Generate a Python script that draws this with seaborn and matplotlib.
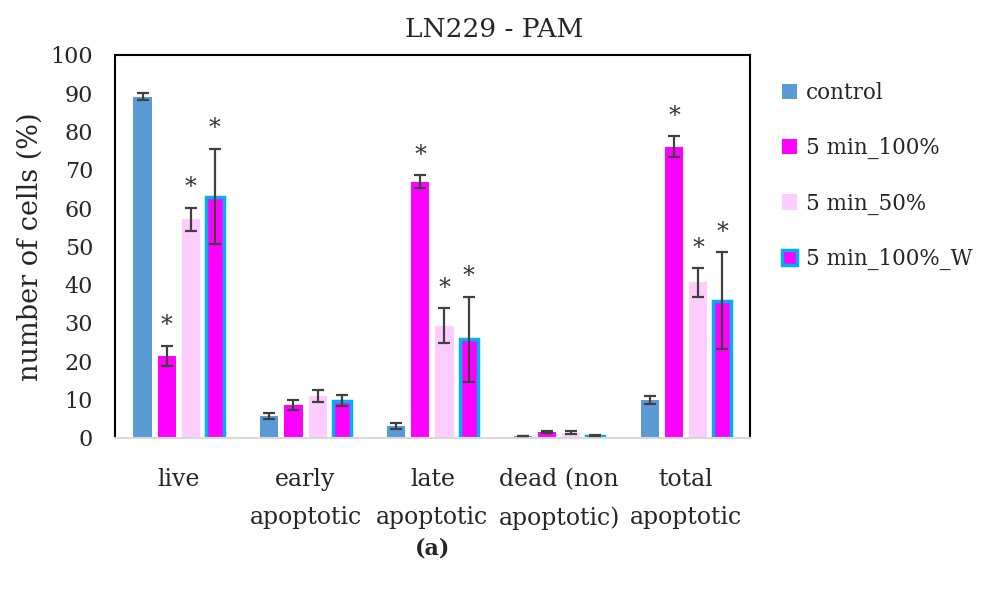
import matplotlib
matplotlib.use("Agg")
import matplotlib.pyplot as plt
import seaborn as sns
import pandas as pd
import numpy as np
from matplotlib.patches import Patch

categories = ["live", "early\napoptotic", "late\napoptotic", "dead (non\napoptotic)", "total\napoptotic"]
series = ["control", "5 min_100%", "5 min_50%", "5 min_100%_W"]

control = [89.1, 5.8, 3.2, 0.5, 9.9]
min5_100 = [21.4, 8.6, 66.9, 1.5, 76.0]
min5_50 = [57.1, 11.0, 29.3, 1.4, 40.6]
min5_100_w = [63.0, 9.7, 25.8, 0.6, 35.8]

err_control = [0.8, 0.8, 0.8, 0.1, 1.0]
err_100 = [2.7, 1.4, 1.7, 0.2, 2.7]
err_50 = [3.0, 1.5, 4.6, 0.5, 3.7]
err_w = [12.5, 1.4, 11.1, 0.1, 12.6]

signif_100 = [True, False, True, False, True]
signif_50 = [True, False, True, False, True]
signif_w = [True, False, True, False, True]

values = [control, min5_100, min5_50, min5_100_w]
errors = [err_control, err_100, err_50, err_w]
signifs = [[False] * 5, signif_100, signif_50, signif_w]

face_colors = ["#5B9BD5", "#FF00FF", "#FFCCFF", "#FF00FF"]
edge_colors = ["#5B9BD5", "#FF00FF", "#FFCCFF", "#00B0F0"]

rows = []
for s, vals in zip(series, values):
    for c, v in zip(categories, vals):
        rows.append({"category": c, "series": s, "value": v})
df = pd.DataFrame(rows)

sns.set_style("white")
plt.rcParams["font.family"] = ["DejaVu Serif"]

fig = plt.figure(figsize=(9.85, 5.95), dpi=100)
ax = fig.add_axes([0.117, 0.264, 0.644, 0.644])

sns.barplot(data=df, x="category", y="value", hue="series", order=categories,
            hue_order=series, palette=face_colors, width=0.76, gap=0.25,
            errorbar=None, legend=False, ax=ax, saturation=1)

bar_containers = list(ax.containers)
for i, cont in enumerate(bar_containers):
    for j, bar in enumerate(cont.patches):
        bar.set_facecolor(face_colors[i])
        if i == 3:
            bar.set_edgecolor(edge_colors[i])
            bar.set_linewidth(2.5)
        else:
            bar.set_edgecolor("none")
        x = bar.get_x() + bar.get_width() / 2
        y = values[i][j]
        e = errors[i][j]
        ax.errorbar(x, y, yerr=e, fmt="none", ecolor="#404040",
                    elinewidth=1.6, capsize=4.5, capthick=1.6, zorder=5)
        if signifs[i][j]:
            ax.annotate("*", (x, y + e), xytext=(0, 6), textcoords="offset points",
                        ha="center", va="bottom", fontsize=17, color="#333333")

ax.set_ylim(0, 100)
ax.set_yticks(range(0, 101, 10))
ax.set_xlim(-0.5, 4.5)
ax.tick_params(axis="y", labelsize=16, length=0, pad=16)
ax.tick_params(axis="x", labelsize=17, length=0, pad=22)
for lbl in ax.get_xticklabels():
    lbl.set_linespacing(1.82)
ax.set_xlabel("")
ax.set_ylabel("number of cells (%)", fontsize=19.5, labelpad=5)

fig.text(0.502, 0.95, "LN229 - PAM", ha="center", va="center", fontsize=19)

for side in ["top", "left", "right"]:
    ax.spines[side].set_visible(True)
    ax.spines[side].set_color("black")
    ax.spines[side].set_linewidth(1.5)
ax.spines["bottom"].set_color("#d9d9d9")
ax.spines["bottom"].set_linewidth(1.5)

handles = [Patch(facecolor=face_colors[k], edgecolor=edge_colors[k],
                 linewidth=2.5 if k == 3 else 0) for k in range(4)]
ax.legend(handles, series, loc="upper left", bbox_to_anchor=(1.02, 0.98),
          frameon=False, fontsize=15.5, handlelength=0.72, handleheight=0.72,
          handletextpad=0.4, labelspacing=1.55)

fig.text(0.439, 0.078, "(a)", ha="center", va="center", fontsize=16,
         fontweight="bold")

fig.savefig("out.png", dpi=100)
